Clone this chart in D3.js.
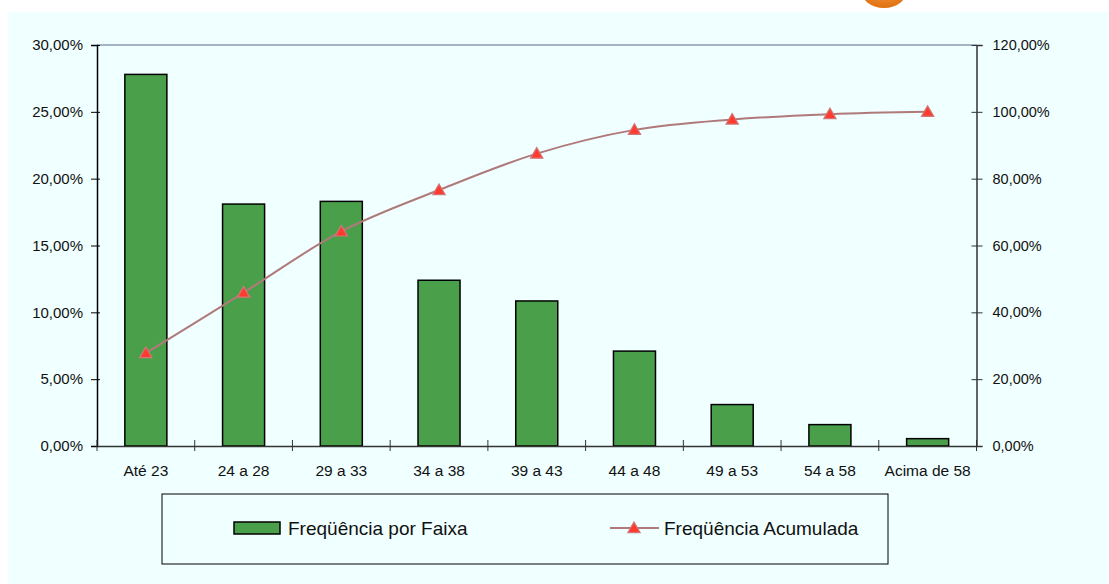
<!DOCTYPE html>
<html>
<head>
<meta charset="utf-8">
<script src="https://cdn.jsdelivr.net/npm/d3@7"></script>
<style>
  body { margin: 0; background: #fff; }
  svg text { font-family: "Liberation Sans", Arial, sans-serif; fill: #111; }
</style>
</head>
<body>
<svg width="1109" height="584"></svg>
<script>
// faixas etárias
const categories = ["Até 23", "24 a 28", "29 a 33", "34 a 38", "39 a 43", "44 a 48", "49 a 53", "54 a 58", "Acima de 58"];
// frequência por faixa (%)
const freq = [27.8, 18.1, 18.3, 12.4, 10.85, 7.1, 3.1, 1.6, 0.55];
// frequência acumulada (%)
const acum = [27.8, 45.9, 64.2, 76.6, 87.5, 94.6, 97.7, 99.3, 100];
const leftTicks = [0, 5, 10, 15, 20, 25, 30];
const rightTicks = [0, 20, 40, 60, 80, 100, 120];

const svg = d3.select("svg"),
      width = +svg.attr("width"),
      height = +svg.attr("height");

const plotL = 97, plotR = 976.5, plotT = 45, plotB = 446;
const br = d3.formatLocale({ decimal: ",", thousands: ".", grouping: [3], currency: ["R$", ""] });
const pct = br.format(".2f");

// fundo
svg.append("rect")
  .attr("x", 8).attr("y", 12)
  .attr("width", width - 8).attr("height", height - 12)
  .attr("fill", "#F0FFFF");

// detalhe laranja no topo
const grad = svg.append("defs").append("radialGradient")
  .attr("id", "orange").attr("cx", "50%").attr("cy", "30%").attr("r", "70%");
grad.append("stop").attr("offset", "0%").attr("stop-color", "#FFB060");
grad.append("stop").attr("offset", "100%").attr("stop-color", "#E07010");
svg.append("ellipse")
  .attr("cx", 884).attr("cy", -12).attr("rx", 24).attr("ry", 20)
  .attr("fill", "url(#orange)");

const x = d3.scaleBand().domain(categories).range([plotL, plotR]);
const y = d3.scaleLinear().domain([0, 30]).range([plotB, plotT]);
const y2 = d3.scaleLinear().domain([0, 120]).range([plotB, plotT]);

// linha superior
svg.append("line")
  .attr("x1", plotL).attr("x2", plotR)
  .attr("y1", plotT).attr("y2", plotT)
  .attr("stroke", "#8C9AAE").attr("stroke-width", 1.5);

// barras
const bw = x.bandwidth() * 0.43;
svg.append("g")
  .selectAll("rect")
  .data(freq)
  .enter().append("rect")
  .attr("x", (d, i) => x(categories[i]) + x.bandwidth() / 2 - bw / 2)
  .attr("y", d => y(d))
  .attr("width", bw)
  .attr("height", d => plotB - y(d))
  .attr("fill", "#4AA04A")
  .attr("stroke", "#000")
  .attr("stroke-width", 1.5);

// eixo esquerdo
const gl = svg.append("g")
  .attr("transform", `translate(${plotL},0)`)
  .call(d3.axisLeft(y).tickValues(leftTicks).tickFormat(d => pct(d) + "%").tickSize(6).tickPadding(8));
gl.select(".domain").attr("stroke", "#000").attr("stroke-width", 1.5);
gl.selectAll(".tick line").attr("x1", 3).attr("stroke", "#000");
gl.selectAll(".tick text").style("font-size", "15px").attr("fill", "#111");

// eixo direito
const gr = svg.append("g")
  .attr("transform", `translate(${plotR},0)`)
  .call(d3.axisRight(y2).tickValues(rightTicks).tickFormat(d => pct(d) + "%").tickSize(6).tickPadding(10));
gr.select(".domain").attr("stroke", "#333").attr("stroke-width", 1.5);
gr.selectAll(".tick line").attr("x1", -5).attr("stroke", "#333");
gr.selectAll(".tick text").style("font-size", "14.5px").attr("fill", "#111");

// eixo x
const gx = svg.append("g")
  .attr("transform", `translate(0,${plotB})`)
  .call(d3.axisBottom(x).tickSize(0).tickPadding(19));
gx.select(".domain").attr("stroke", "#333").attr("stroke-width", 1.5);
gx.selectAll(".tick text").style("font-size", "15.5px").attr("fill", "#111");
const bounds = categories.map(c => x(c)).concat([plotR]);
gx.append("g")
  .selectAll("line")
  .data(bounds)
  .enter().append("line")
  .attr("x1", d => d).attr("x2", d => d)
  .attr("y1", -6).attr("y2", 5)
  .attr("stroke", "#333");

// linha acumulada
const cx = (d, i) => x(categories[i]) + x.bandwidth() / 2;
const line = d3.line()
  .x(cx)
  .y(d => y2(d))
  .curve(d3.curveCatmullRom.alpha(0.5));

svg.append("path")
  .datum(acum)
  .attr("d", line)
  .attr("fill", "none")
  .attr("stroke", "#B07A7A")
  .attr("stroke-width", 2);

const tri = d3.symbol().type(d3.symbolTriangle).size(65);
svg.append("g")
  .selectAll("path")
  .data(acum)
  .enter().append("path")
  .attr("d", tri)
  .attr("transform", (d, i) => `translate(${cx(d, i)},${y2(d) + 1})`)
  .attr("fill", "#FF3B2F")
  .attr("stroke", "#D07878")
  .attr("stroke-width", 1.2);

// legenda
const leg = svg.append("g");
leg.append("rect")
  .attr("x", 162).attr("y", 494)
  .attr("width", 726).attr("height", 70)
  .attr("fill", "none").attr("stroke", "#000").attr("stroke-width", 1);
leg.append("rect")
  .attr("x", 234).attr("y", 522)
  .attr("width", 46).attr("height", 12)
  .attr("fill", "#4AA04A").attr("stroke", "#000").attr("stroke-width", 1.5);
leg.append("text")
  .attr("x", 288).attr("y", 535)
  .style("font-size", "19px")
  .text("Freqüência por Faixa");
leg.append("line")
  .attr("x1", 610).attr("x2", 659)
  .attr("y1", 528).attr("y2", 528)
  .attr("stroke", "#B07A7A").attr("stroke-width", 2);
leg.append("path")
  .attr("d", tri)
  .attr("transform", "translate(634,529)")
  .attr("fill", "#FF3B2F")
  .attr("stroke", "#D07878")
  .attr("stroke-width", 1.2);
leg.append("text")
  .attr("x", 664).attr("y", 535)
  .style("font-size", "19px")
  .text("Freqüência Acumulada");
</script>
</body>
</html>
